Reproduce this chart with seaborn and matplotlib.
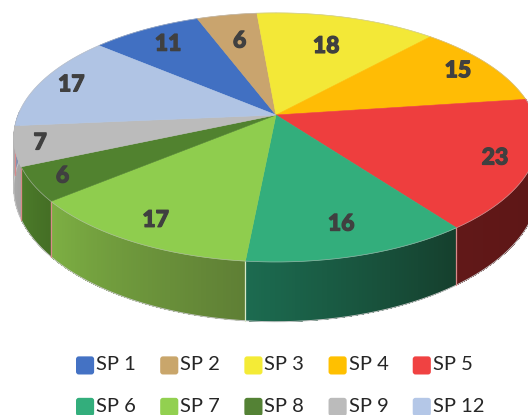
import numpy as np
import matplotlib
matplotlib.use("Agg")
import matplotlib.pyplot as plt
import matplotlib.patheffects as pe
from matplotlib.patches import FancyBboxPatch, Patch
from matplotlib.legend_handler import HandlerPatch
from matplotlib.colors import to_rgb
import seaborn as sns

categories = ["SP 1", "SP 2", "SP 3", "SP 4", "SP 5", "SP 6", "SP 7", "SP 8", "SP 9", "SP 12"]
values = [11, 6, 18, 15, 23, 16, 17, 6, 7, 17]
colors = ["#4170C2", "#C9A46E", "#F3E837", "#FFBC05", "#EE3E3E", "#33AE7C", "#8FCD4E", "#51822F", "#BBBBBB", "#B0C4E4"]
legend_colors = ["#4472C4", "#C9A66B", "#F4EB36", "#FFC000", "#F04242", "#33AE7C", "#92D050", "#548235", "#BBBBBB", "#B4C7E7"]
# wall shade at the clockwise start and end of each slice
side_start = ["#2F5597", "#8F7548", "#B0A820", "#B08500", "#5A1414", "#153F2D", "#5F7F35", "#456F25", "#A5A5A5", "#8090B0"]
side_end = ["#2F5597", "#8F7548", "#B0A820", "#B08500", "#611818", "#1C6B50", "#7DB043", "#4C7C2A", "#B0B0B0", "#8090B0"]
label_radius = [0.807, 0.708, 0.67, 0.851, 0.865, 0.808, 0.856, 0.889, 0.905, 0.871]

sns.set_theme(style="white")
plt.rcParams["font.family"] = ["Lato", "DejaVu Sans"]

CX, CY, A, B, K, H = 276, 115, 258, 120.5, 0.18, 49
START = -50.0


def project(deg, r=1.0):
    t = np.radians(deg)
    u, v = r * np.sin(t), r * np.cos(t)
    w = 1 + K * v
    return CX + A * u / w, CY - B * v / w, w


fig = plt.figure(figsize=(5.28, 4.15), dpi=100)
ax = fig.add_axes([0, 0, 1, 1])
ax.set_xlim(0, 528)
ax.set_ylim(415, 0)
ax.axis("off")

edges = START + np.concatenate([[0], np.cumsum(values)]) * 360 / sum(values)

# side wall (visible lower half only), shaded along the arc
VIS0, VIS1 = 80.0, 272.0
for i in range(len(values)):
    a0, a1 = max(edges[i], VIS0), min(edges[i + 1], VIS1)
    if a1 <= a0:
        continue
    steps = np.linspace(a0, a1, max(int(a1 - a0) * 2, 2) + 1)
    c0, c1 = np.array(to_rgb(side_start[i])), np.array(to_rgb(side_end[i]))
    for j in range(len(steps) - 1):
        # each strip runs to the slice end, so later strips paint over it without seams
        s = np.linspace(steps[j], a1, 40)
        x, y, w = project(s)
        xs = np.concatenate([x, x[::-1]])
        ys = np.concatenate([y, (y + H / w)[::-1]])
        f = j / max(len(steps) - 2, 1)
        ax.fill(xs, ys, color=c0 + (c1 - c0) * f, lw=0, zorder=2)
    # thin light seam at the slice end
    if edges[i + 1] <= VIS1:
        x, y, w = project(np.array([a1]))
        ax.plot([x[0], x[0]], [y[0], y[0] + H / w[0]], color="#D8E8C8" if i == 5 else "#D88A8A",
                lw=0.9, zorder=3)

# rim lines below the wall
arc = np.linspace(VIS0, VIS1, 200)
x, y, w = project(arc)
ax.plot(x, y + H / w, color="#C8C8C8", lw=0.7, zorder=2.5)

# top face
for i in range(len(values)):
    s = np.linspace(edges[i], edges[i + 1], 80)
    x, y, w = project(s)
    ax.fill(np.r_[CX, x], np.r_[CY, y], color=colors[i], lw=0.4, zorder=4)

arc = np.linspace(0, 360, 361)
x, y, w = project(arc)
ax.plot(x, y, color="#BDBDBD", lw=0.5, alpha=0.7, zorder=4.5)

# data labels
for i, val in enumerate(values):
    mid = (edges[i] + edges[i + 1]) / 2
    x, y, _ = project(mid, label_radius[i])
    ax.text(x, y, str(val), ha="center", va="center", fontsize=16.5, color="#404040",
            family=["Lato", "DejaVu Sans"], fontweight=900, zorder=6,
            path_effects=[pe.withStroke(linewidth=0.9, foreground="#404040")])


class RoundHandler(HandlerPatch):
    def create_artists(self, legend, orig, xd, yd, width, height, fontsize, trans):
        pad = 2.0
        p = FancyBboxPatch((-xd + pad, -yd + pad - 2.0), width - 2 * pad, width - 2 * pad,
                           boxstyle=f"round,pad={pad},rounding_size={pad}",
                           facecolor=orig.get_facecolor(), edgecolor="none", transform=trans)
        return [p]


handles = [Patch(facecolor=c, label=n) for c, n in zip(legend_colors, categories)]
order = [0, 5, 1, 6, 2, 7, 3, 8, 4, 9]
ax.legend([handles[k] for k in order], [categories[k] for k in order],
          ncol=5, frameon=False, loc="upper left", bbox_to_anchor=(76, 355),
          bbox_transform=ax.transData, handler_map={Patch: RoundHandler()},
          fontsize=14.5, handlelength=0.9, handleheight=0.9, handletextpad=0.1,
          columnspacing=1.2, labelspacing=1.15, borderpad=0, borderaxespad=0)

fig.savefig("out.png", dpi=100)
